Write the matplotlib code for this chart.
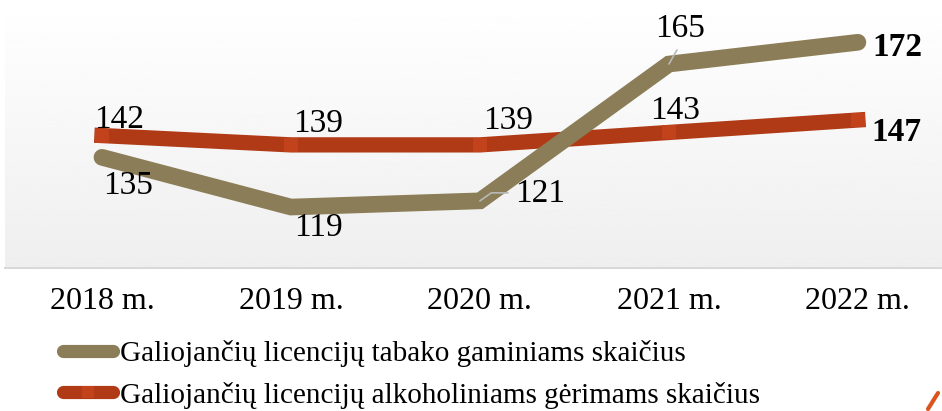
import numpy as np
import matplotlib.pyplot as plt
from matplotlib.lines import Line2D

years = ["2018 m.", "2019 m.", "2020 m.", "2021 m.", "2022 m."]
tabakas = [135, 119, 121, 165, 172]
alkoholis = [142, 139, 139, 143, 147]

tan = "#8b7d57"
red = "#b03a15"
red_mk = "#c2431b"

plt.rcParams['font.family'] = ['Liberation Serif', 'DejaVu Serif']

fig = plt.figure(figsize=(9.42, 4.11), dpi=100)
ax = fig.add_axes([5 / 942, 1 - 268 / 411, 937 / 942, 268 / 411])

x = np.arange(len(years))
x0, x1 = -0.513, 4.445
ax.set_xlim(x0, x1)
ax.set_ylim(99.4, 185.6)

# gradient background of the plot area
grad = np.linspace(1.0, 0.935, 256).reshape(-1, 1)
ax.imshow(grad, cmap="gray", vmin=0, vmax=1, aspect="auto",
          extent=[x0, x1, 99.4, 185.6], origin="upper", zorder=0)

sq = [(-1, -1), (1, -1), (1, 1), (-1, 1), (-1, -1)]
ax.plot(x, alkoholis, color=red, lw=11, solid_capstyle="projecting",
        solid_joinstyle="miter", marker=sq, markersize=10.5,
        markerfacecolor=red_mk, markeredgewidth=0, zorder=3)
ax.plot(x, tabakas, color=tan, lw=12, solid_capstyle="round",
        solid_joinstyle="miter", zorder=4)

fs = 24
# data labels (offsets in pixels)
lab_t = [(26, -28), (27, -21), (60, 7), (11, 35), (39, -5)]
lab_a = [(17, 16), (27, 21), (28, 24), (6, 22), (39, -12)]
for i in range(len(years)):
    bold = "bold" if i == len(years) - 1 else "normal"
    ax.annotate(str(tabakas[i]), (x[i], tabakas[i]), xytext=lab_t[i],
                textcoords="offset pixels", ha="center", va="center",
                fontsize=fs, fontweight=bold, zorder=5)
    ax.annotate(str(alkoholis[i]), (x[i], alkoholis[i]), xytext=lab_a[i],
                textcoords="offset pixels", ha="center", va="center",
                fontsize=fs, fontweight=bold, zorder=5)

# small leader lines
ax.annotate("", (x[2], tabakas[2]), xytext=(28, 8), textcoords="offset pixels",
            arrowprops=dict(arrowstyle="-", color="#b8b8b8", lw=1.2,
                            connectionstyle="angle,angleA=0,angleB=35,rad=0",
                            shrinkA=0, shrinkB=0), zorder=6)
ax.annotate("", (x[3], tabakas[3]), xytext=(8, 14), textcoords="offset pixels",
            arrowprops=dict(arrowstyle="-", color="#b8b8b8", lw=1.2,
                            shrinkA=0, shrinkB=0), zorder=6)

ax.set_xticks(x)
ax.set_xticklabels(years, fontsize=23)
ax.tick_params(axis="x", length=0, pad=14)
ax.set_yticks([])
for s in ["top", "left", "right"]:
    ax.spines[s].set_visible(False)
ax.spines["bottom"].set_color("#d9d9d9")
ax.spines["bottom"].set_linewidth(1.5)

handles = [
    Line2D([], [], color=tan, lw=9.5, solid_capstyle="round"),
    Line2D([], [], color=red, lw=9.5, solid_capstyle="round", marker=sq,
           markersize=9, markerfacecolor=red_mk, markeredgewidth=0),
]
labels = ["Galiojančių licencijų tabako gaminiams skaičius",
          "Galiojančių licencijų alkoholiniams gėrimams skaičius"]
fig.legend(handles, labels, loc="upper left", bbox_to_anchor=(63 / 942, 1 - 340 / 411),
           frameon=False, fontsize=21, handlelength=1.72, handletextpad=0.22,
           labelspacing=0.5, borderpad=0, borderaxespad=0, markerscale=1)

# stray orange stroke in the bottom right corner of the source picture
fig.add_artist(Line2D([928 / 942, 938 / 942], [1 - 409 / 411, 1 - 393 / 411],
                      color="#d9541e", lw=3, solid_capstyle="round"))

fig.savefig("out.png", dpi=100)
